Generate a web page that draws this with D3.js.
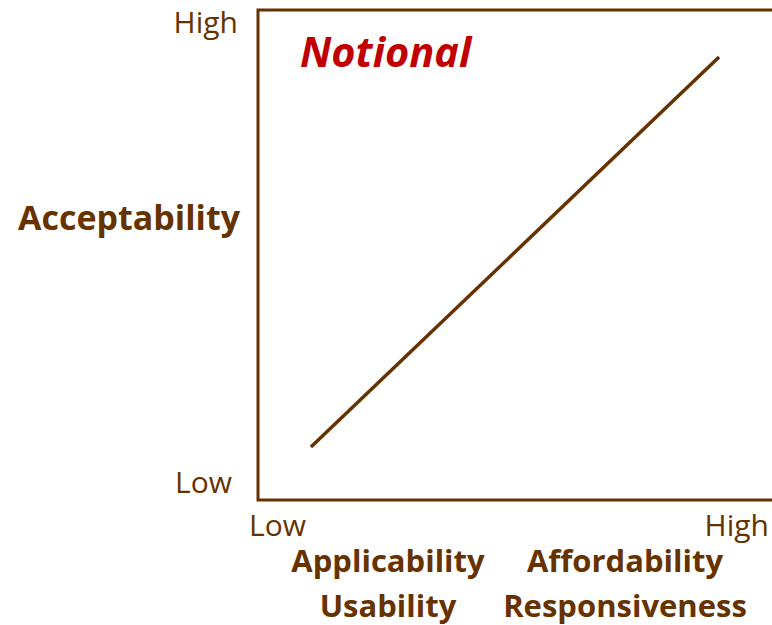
<!DOCTYPE html>
<html>
<head>
<meta charset="utf-8">
<script src="https://cdn.jsdelivr.net/npm/d3@7"></script>
<style>
  body { margin: 0; background: #fff; }
  .tick-label { font-family: "Open Sans", sans-serif; font-size: 30px; fill: #663300; }
  .axis-title { font-family: "Open Sans", sans-serif; font-weight: bold; font-size: 31px; fill: #663300; }
</style>
</head>
<body>
<div id="chart"></div>
<script>
// notional trend line (fractions of the axis range)
const lineX = [0.103, 0.897];
const lineY = [0.108, 0.904];

const tickLabels = ["Low", "High"];
const xTitles = [["Applicability", "Usability"], ["Affordability", "Responsiveness"]];
const yTitle = "Acceptability";
const stampText = "Notional";

const width = 772, height = 625;
const margin = {top: 10, right: 0, bottom: 125, left: 258};
const brown = "#663300";

let svg = d3.select("#chart")
  .append("svg")
  .attr("width", width)
  .attr("height", height);

let xScale = d3.scaleLinear()
  .domain([0, 1])
  .range([margin.left, width - margin.right]);

let yScale = d3.scaleLinear()
  .domain([0, 1])
  .range([height - margin.bottom, margin.top]);

// frame: left, top and bottom (right side runs off the page)
svg.append("path")
  .attr("d", `M${xScale(1) + 5},${yScale(1)} H${xScale(0)} V${yScale(0)} H${xScale(1) + 5}`)
  .attr("fill", "none")
  .attr("stroke", brown)
  .attr("stroke-width", 3);

// the line
let pts = lineX.map((x, i) => [x, lineY[i]]);
svg.append("path")
  .datum(pts)
  .attr("d", d3.line().x(d => xScale(d[0])).y(d => yScale(d[1])))
  .attr("stroke", brown)
  .attr("stroke-width", 3.5)
  .attr("fill", "none");

// y tick labels
svg.append("text").attr("class", "tick-label")
  .attr("x", xScale(0) - 26).attr("y", yScale(0) - 7)
  .attr("text-anchor", "end").text(tickLabels[0]);
svg.append("text").attr("class", "tick-label")
  .attr("x", xScale(0) - 20).attr("y", yScale(1) + 23)
  .attr("text-anchor", "end").text(tickLabels[1]);

// x tick labels
svg.append("text").attr("class", "tick-label")
  .attr("x", xScale(0) - 9).attr("y", yScale(0) + 36)
  .text(tickLabels[0]);
svg.append("text").attr("class", "tick-label")
  .attr("x", xScale(1) - 3).attr("y", yScale(0) + 36)
  .attr("text-anchor", "end").text(tickLabels[1]);

// y title (a bit larger than the x titles)
svg.append("text").attr("class", "axis-title")
  .attr("x", 129).attr("y", 230)
  .style("font-size", "34px")
  .attr("text-anchor", "middle").text(yTitle);

// x titles, two stacked groups
const titleCenters = [388, 625];
xTitles.forEach((pair, i) => {
  pair.forEach((t, j) => {
    svg.append("text").attr("class", "axis-title")
      .attr("x", titleCenters[i]).attr("y", 572 + j * 45)
      .attr("text-anchor", "middle").text(t);
  });
});

// stamp
svg.append("text")
  .attr("x", 300).attr("y", 67)
  .attr("font-family", "'Open Sans', sans-serif")
  .attr("font-weight", "bold")
  .attr("font-style", "italic")
  .attr("font-size", 41.5)
  .attr("fill", "#c00000")
  .text(stampText);
</script>
</body>
</html>
